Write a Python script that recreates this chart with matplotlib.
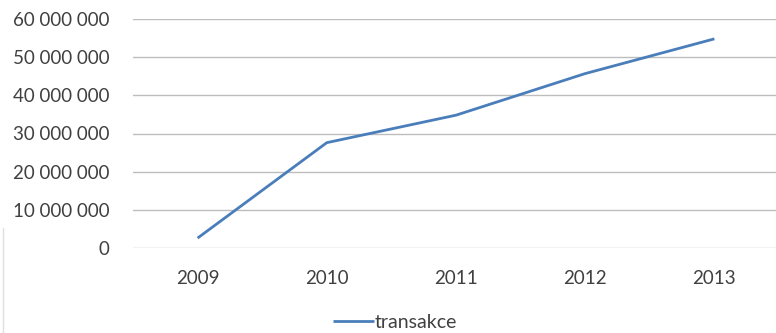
import matplotlib.pyplot as plt
from matplotlib.ticker import FuncFormatter
from matplotlib.lines import Line2D

years = ['2009', '2010', '2011', '2012', '2013']
transakce = [2600000, 27600000, 34800000, 45700000, 54800000]
y_ticks = [0, 10000000, 20000000, 30000000, 40000000, 50000000, 60000000]

plt.rcParams['font.family'] = ['Lato', 'DejaVu Sans']

fig = plt.figure(figsize=(7.76, 3.33), dpi=100)
ax = fig.add_axes([133 / 776, 1 - 248 / 333, 646 / 776, 229 / 333])

x = list(range(len(years)))
ax.plot(x, transakce, color='#4A7EBB', linewidth=2.0, label='transakce',
        solid_capstyle='butt', zorder=3)

ax.set_xlim(-0.5, len(years) - 0.5)
ax.set_ylim(0, 60000000)
ax.set_yticks(y_ticks)
ax.yaxis.set_major_formatter(FuncFormatter(lambda v, p: f'{int(v):,}'.replace(',', ' ')))
ax.set_xticks(x)
ax.set_xticklabels(years)

ax.grid(axis='y', color='#BDBDBD', linewidth=1.0)
ax.set_axisbelow(True)
for s in ax.spines.values():
    s.set_visible(False)
ax.tick_params(length=0, labelsize=13.5, labelcolor='#404040')
ax.tick_params(axis='y', pad=17)
ax.tick_params(axis='x', pad=16)

leg = fig.legend(loc='center', bbox_to_anchor=(395 / 776, 1 - 322 / 333), frameon=False,
                 fontsize=14, handlelength=2.1, handletextpad=0.05, borderpad=0)
for t in leg.get_texts():
    t.set_color('#404040')

# faint left edge of the chart frame
fig.add_artist(Line2D([3.5 / 776, 3.5 / 776], [0, 1 - 228 / 333], transform=fig.transFigure,
                      color='#E0E0E0', linewidth=1.0))

fig.savefig('out.png', dpi=100)
